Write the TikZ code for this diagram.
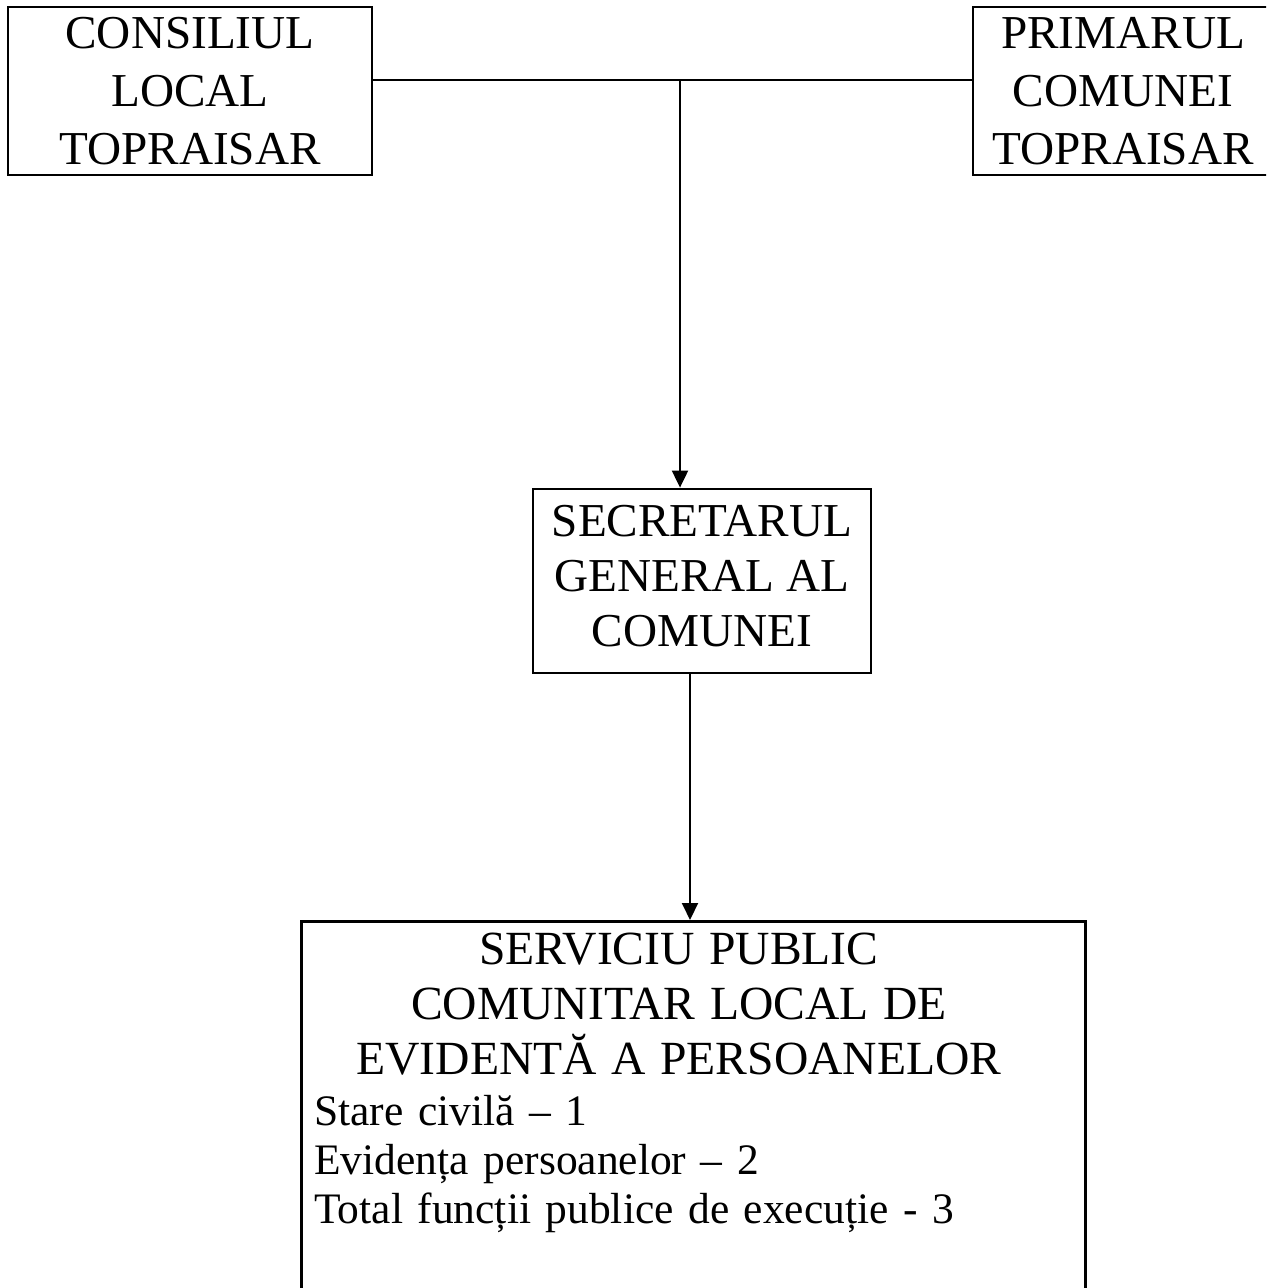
\documentclass[tikz,border=0pt]{standalone}
\usepackage{fontspec}
\setmainfont{Liberation Serif}
\usetikzlibrary{arrows.meta,calc,positioning}
\tikzset{%
	office/.style = {draw, rectangle, line width=1.4pt, align=center, inner sep=0pt, font=\fontsize{23.6}{29}\selectfont},
	link/.style   = {line width=1pt},
	arrow/.style  = {line width=1pt, -{Triangle[length=8.5pt,width=8pt]}},
}
\newcommand{\servtitle}[1]{\makebox[364.5pt]{\fontsize{23.8}{27.5}\selectfont #1}}

\begin{document}
\begin{tikzpicture}[x=0.5pt,y=-0.5pt]
	\useasboundingbox (0,0) rectangle (1266,1288);
	\clip (0,0) rectangle (1266,1288);
	\node[office, minimum width=182pt, minimum height=84pt] (consiliu) at (190,91) {CONSILIUL\\LOCAL\\TOPRAISAR};
	\node[office, minimum width=150pt, minimum height=84pt] (primar) at (1123,91) {PRIMARUL\\COMUNEI\\TOPRAISAR};
	\node[office, minimum width=169pt, minimum height=92pt, text depth=5.4pt, font=\fontsize{23.6}{27.5}\selectfont] (secretar) at (702,581) {SECRETARUL\\GENERAL AL\\COMUNEI};
	\node[office, anchor=north west, align=left, text width=379pt, inner xsep=6.5pt, inner ysep=6pt, font=\fontsize{21.75}{24.3}\selectfont] (serviciu) at (300,920) {%
		\servtitle{SERVICIU PUBLIC}\\[3.2pt]
		\servtitle{COMUNITAR LOCAL DE}\\[3.2pt]
		\servtitle{EVIDENTĂ A PERSOANELOR}\\[1.2pt]
		Stare civilă – 1\\
		Evidența persoanelor – 2\\
		Total funcții publice de execuție - 3\\[60pt]
		\mbox{}};
	
	\coordinate (ramura) at (680,80);  % branch on the top line
	\draw[link] ([yshift=5.5pt]consiliu.east) -- ([yshift=5.5pt]primar.west);
	\draw[arrow] (ramura) -- (ramura |- secretar.north);
	\draw[arrow] ([xshift=-6pt]secretar.south) -- ([xshift=-6pt]secretar.south |- serviciu.north);
\end{tikzpicture}
\end{document}
